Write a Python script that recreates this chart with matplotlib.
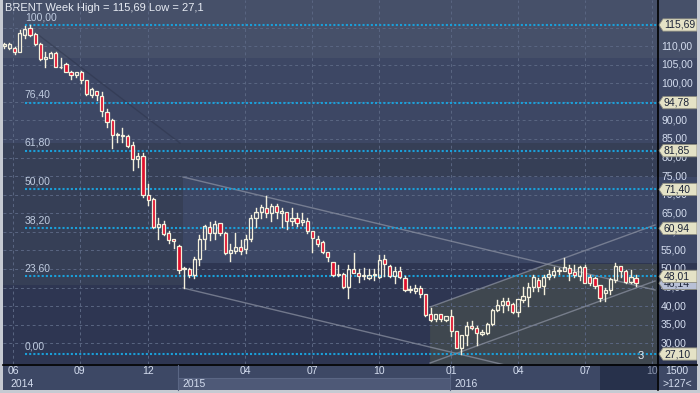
import matplotlib
matplotlib.use("Agg")
import matplotlib.pyplot as plt
from matplotlib.patches import Rectangle, Polygon
import matplotlib.transforms as mtransforms

plt.rcParams["font.family"] = ["Liberation Sans", "DejaVu Sans"]

# ---------------- data (weekly candles) ----------------
opens = [109.9, 109.5, 109.5, 108.5, 113.0, 114.9, 113.3, 110.6, 106.5, 106.9,
         108.2, 104.3, 105.1, 103.1, 102.2, 102.9, 100.9, 96.8, 97.9, 96.7,
         92.3, 90.1, 86.0, 85.7, 85.8, 83.3, 79.5, 80.4, 69.9, 68.8,
         61.2, 62.0, 59.6, 58.0, 56.2, 49.9, 50.0, 48.4, 52.7, 58.0,
         61.4, 59.8, 62.3, 59.8, 54.4, 54.8, 56.0, 55.3, 58.0, 63.6,
         65.3, 66.3, 65.2, 67.0, 65.2, 65.4, 63.0, 63.6, 62.7, 62.9,
         60.2, 58.2, 57.2, 54.5, 51.8, 48.4, 48.6, 45.2, 49.9, 49.0,
         48.0, 47.5, 48.4, 47.9, 52.7, 50.8, 48.1, 49.4, 47.5, 44.3,
         44.1, 44.8, 43.3, 37.8, 36.4, 37.8, 36.3, 37.2, 33.3, 28.6,
         32.2, 34.7, 34.0, 32.6, 32.7, 35.2, 39.0, 40.3, 41.4, 40.6,
         38.5, 41.6, 42.5, 45.2, 47.0, 45.4, 47.8, 48.4, 49.5, 49.5,
         50.2, 49.3, 48.1, 50.6, 47.9, 47.7, 45.7, 43.6, 44.3, 46.9,
         50.8, 49.5, 46.6, 47.7]
highs = [110.8, 110.8, 109.7, 114.3, 115.4, 115.69, 113.5, 110.8, 108.5, 108.3,
         108.4, 106.7, 105.5, 103.3, 103.1, 103.2, 101.0, 98.6, 98.0, 97.6,
         93.0, 90.3, 86.6, 87.9, 86.2, 84.2, 81.3, 81.1, 73.0, 69.1,
         63.6, 62.9, 60.3, 58.1, 56.4, 50.4, 50.3, 53.2, 59.1, 61.8,
         62.7, 63.0, 62.3, 60.0, 56.6, 59.6, 57.8, 59.2, 64.5, 66.3,
         67.2, 69.6, 67.5, 67.5, 66.3, 65.4, 66.3, 65.2, 65.0, 63.6,
         60.2, 58.9, 57.5, 54.7, 51.9, 51.1, 48.9, 51.1, 54.2, 49.9,
         50.2, 49.9, 49.9, 53.7, 53.7, 51.1, 50.4, 50.6, 48.2, 45.4,
         45.7, 45.4, 43.3, 39.4, 38.0, 38.0, 37.4, 38.9, 33.3, 32.3,
         35.8, 36.0, 34.7, 33.6, 35.5, 39.1, 41.6, 42.1, 42.1, 40.8,
         41.8, 45.2, 46.3, 48.4, 47.5, 48.4, 49.7, 50.4, 50.2, 52.9,
         51.1, 51.1, 50.8, 51.1, 48.4, 47.9, 45.7, 44.8, 47.5, 51.5,
         50.8, 49.7, 49.7, 48.4]
lows = [109.6, 109.3, 107.8, 108.4, 112.1, 112.8, 110.4, 106.2, 104.5, 106.7,
        104.3, 104.0, 102.9, 101.1, 101.8, 100.2, 96.9, 96.4, 95.5, 91.2,
        88.3, 82.5, 84.3, 84.3, 82.9, 76.6, 77.5, 69.5, 67.2, 61.0,
        58.2, 59.2, 57.1, 55.7, 48.8, 45.0, 47.8, 47.5, 51.1, 55.5,
        57.8, 58.0, 59.1, 54.0, 52.2, 54.2, 53.9, 54.2, 57.4, 61.2,
        63.6, 63.9, 63.0, 63.6, 61.2, 60.7, 61.8, 61.6, 61.8, 59.6,
        54.7, 56.2, 54.2, 52.2, 48.1, 48.1, 44.9, 42.1, 48.8, 46.6,
        47.2, 47.2, 47.0, 47.7, 48.1, 47.9, 46.3, 47.5, 44.1, 43.9,
        43.5, 42.4, 37.2, 36.1, 36.1, 36.0, 36.0, 32.0, 28.6, 27.1,
        29.5, 33.8, 29.5, 32.2, 32.5, 34.9, 38.8, 38.5, 39.0, 38.2,
        37.2, 41.2, 39.9, 44.2, 44.2, 43.3, 47.2, 47.9, 48.6, 49.5,
        46.9, 47.8, 47.0, 46.1, 45.7, 44.8, 41.5, 41.5, 43.3, 46.6,
        47.9, 46.3, 46.1, 45.4]
closes = [110.6, 110.5, 108.5, 113.5, 114.5, 113.0, 110.6, 106.5, 107.0, 108.1,
          104.5, 104.5, 103.1, 102.2, 102.9, 100.9, 97.1, 98.4, 96.8, 92.4,
          89.7, 86.1, 86.3, 86.0, 83.1, 79.5, 80.4, 69.9, 68.7, 61.4,
          62.0, 59.4, 57.8, 57.5, 49.7, 50.2, 48.4, 52.8, 58.2, 61.6,
          59.8, 62.1, 59.8, 54.4, 55.1, 56.0, 54.8, 58.0, 63.6, 65.4,
          66.8, 65.2, 67.0, 65.4, 65.7, 63.0, 63.6, 62.5, 63.2, 60.3,
          58.4, 56.7, 54.5, 53.3, 48.4, 48.6, 45.2, 49.9, 49.0, 48.1,
          48.4, 48.4, 48.5, 52.4, 51.3, 48.1, 49.4, 47.9, 44.4, 44.6,
          45.0, 43.3, 37.6, 36.3, 37.8, 36.4, 37.2, 33.3, 28.8, 32.2,
          34.7, 34.0, 32.7, 32.9, 35.2, 39.0, 40.3, 41.4, 40.3, 38.5,
          41.8, 42.7, 45.2, 47.8, 45.2, 47.8, 48.6, 49.5, 49.7, 50.4,
          49.0, 48.4, 50.6, 46.3, 46.3, 45.5, 42.1, 44.3, 47.2, 50.8,
          49.5, 46.6, 47.8, 46.1]

fib_pct = ["100,00", "76,40", "61,80", "50,00", "38,20", "23,60", "0,00"]
fib_price = [115.69, 94.78, 81.85, 71.40, 60.94, 48.01, 27.10]
fib_tags = ["115,69", "94,78", "81,85", "71,40", "60,94", "48,01", "27,10"]
last_price = 46.14
last_tag = "46,14"

price_ticks = [30, 35, 40, 45, 50, 55, 60, 65, 70, 75, 80, 85, 90, 95, 100, 105, 110]
month_labels = ["06", "09", "12", "04", "07", "10", "01", "04", "07", "10"]
month_pos = [1.7, 14.7, 28.0, 46.9, 59.9, 73.0, 87.0, 100.0, 113.1, 126.1]

# trend lines (week index, price)
desc_upper = ([34.8, 126.7], [74.76, 44.34])
desc_lower = ([34.8, 126.7], [44.88, 14.47])
asc_upper = ([82.9, 126.7], [39.76, 61.84])
asc_lower = ([82.9, 126.7], [24.68, 46.76])
old_line = ([6.2, 34.2], [113.5, 83.9])

# ---------------- colours ----------------
NAVY = "#2e3652"
BAND_A = "#465069"
BAND_B = "#3d4764"
BAND_C = "#363f56"
BAND_D = "#3c4765"
GREEN = "#3f474f"
CREAM = "#f4f0dc"
RED = "#e0102e"
FIB = "#1a9fd9"
GRID = "#5a6682"
TXT = "#d4ddef"

W, H = 700, 393
fig = plt.figure(figsize=(W / 100, H / 100), dpi=100, facecolor="#c6cad2")

# background in pixel coordinates
bg = fig.add_axes([0, 0, 1, 1])
bg.set_xlim(0, W)
bg.set_ylim(H, 0)
bg.axis("off")


def px_rect(x0, y0, x1, y1, c, z=0):
    bg.add_patch(Rectangle((x0, y0), x1 - x0, y1 - y0, facecolor=c, edgecolor="none", zorder=z))


px_rect(3, 0, 697, 364, NAVY)
px_rect(3, 0, 697, 58, BAND_A)
px_rect(3, 58, 697, 143, BAND_B)
px_rect(3, 143, 697, 263, BAND_C)
px_rect(3, 263, 183, 285, BAND_C)
px_rect(183, 177, 697, 263, BAND_D)
# date axis
px_rect(3, 364, 697, 390, "#3d4865")
px_rect(178, 378, 450, 390, "#4e5977")
px_rect(600, 364, 657, 390, "#27314b")
bg.plot([3, 697], [364.5, 364.5], color="black", lw=1.2, zorder=3)
bg.plot([657.5, 657.5], [0, 390], color="black", lw=1.2, zorder=3)
bg.plot([178, 178], [365, 390], color="#5a6684", lw=0.8, zorder=3)
bg.plot([450, 450], [365, 390], color="#5a6684", lw=0.8, zorder=3)
bg.plot([178, 450], [378, 378], color="#5a6684", lw=0.8, zorder=3)
bg.text(677, 371, "1500", color=TXT, fontsize=7.5, ha="center", va="center")
bg.text(677, 384, ">127<", color=TXT, fontsize=7.5, ha="center", va="center")
bg.text(10, 384, "2014", color=TXT, fontsize=7.5, va="center")
bg.text(182, 384, "2015", color=TXT, fontsize=7.5, va="center")
bg.text(454, 384, "2016", color=TXT, fontsize=7.5, va="center")
bg.text(5, 8, "BRENT Week High = 115,69 Low = 27,1", color="#e8ecf4", fontsize=8, va="center")

# main price axes
y_lo, y_hi = 24.41, 122.42
ax = fig.add_axes([3 / W, (H - 364) / H, 654 / W, 364 / H])
ax.set_facecolor("none")
ax.set_xlim(-0.25, 127.08)
ax.set_ylim(y_lo, y_hi)
ax.axis("off")

# green region of the rising channel
gx0, gx1 = asc_upper[0]
gy0, gy1 = asc_upper[1]
slope = (gy1 - gy0) / (gx1 - gx0)
top_p = 51.34
cross = gx0 + (top_p - gy0) / slope
ax.add_patch(Polygon([(gx0, gy0), (cross, top_p), (127.1, top_p), (127.1, y_lo), (gx0, y_lo)],
                     closed=True, facecolor=GREEN, edgecolor="none", zorder=0))

for p in price_ticks + [115]:
    ax.axhline(p, color=GRID, lw=0.7, ls=(0, (3, 3)), zorder=1)
for m in month_pos:
    ax.axvline(m, color=GRID, lw=0.7, ls=(0, (3, 3)), zorder=1)

for line in (desc_upper, desc_lower, asc_upper, asc_lower):
    ax.plot(line[0], line[1], color="#8e94a4", lw=1.0, alpha=0.7, zorder=2)
ax.plot(old_line[0], old_line[1], color="#262c40", lw=1.0, alpha=0.35, zorder=2)

for lab, p in zip(fib_pct, fib_price):
    ax.plot([4.0, 127.1], [p, p], color=FIB, lw=1.5, ls=(0, (1, 1)), zorder=3)
    ax.text(4.0, p + 0.8, lab, color="#c0cce0", fontsize=7.5, va="bottom", ha="left", zorder=3)

# candles
for i, (o, h, l, c) in enumerate(zip(opens, highs, lows, closes)):
    lo_b, hi_b = min(o, c), max(o, c)
    ax.plot([i, i], [l, lo_b], color=CREAM, lw=1.0, zorder=4)
    ax.plot([i, i], [hi_b, h], color=CREAM, lw=1.0, zorder=4)
    face = RED if c < o else "none"
    ax.bar(i, max(hi_b - lo_b, 0.15), bottom=lo_b, width=0.62, facecolor=face,
           edgecolor=CREAM, linewidth=0.9, zorder=5)

ax.text(124.0, 26.6, "3", color="#e8ecf4", fontsize=8, ha="center", va="center", zorder=6)

# month labels under the plot
trans = mtransforms.blended_transform_factory(ax.transData, fig.transFigure)
for m, lab in zip(month_pos, month_labels):
    col = "#8a94ac" if m > 125 else TXT
    fig.text(m, 1 - 371 / H, lab, transform=trans, color=col, fontsize=7.5,
             ha="center", va="center", clip_on=False)

# right price scale
rax = fig.add_axes([658 / W, (H - 364) / H, 39 / W, 364 / H])
rax.set_facecolor("none")
rax.set_xlim(0, 39)
rax.set_ylim(y_lo, y_hi)
rax.axis("off")
for p in price_ticks:
    rax.text(3, p, f"{p},00", color=TXT, fontsize=7.5, va="center", ha="left", zorder=1)

th = 1.65


def tag(p, text, face, z):
    rax.add_patch(Polygon([(1, p), (5, p + th), (39, p + th), (39, p - th), (5, p - th)],
                          closed=True, facecolor=face, edgecolor="#8c8c80", lw=0.6, zorder=z))
    rax.text(6, p, text, color="#1c2438", fontsize=7.5, va="center", ha="left", zorder=z + 0.5)


tag(last_price, last_tag, "#b8c0d6", 2)
for p, t in zip(fib_price, fib_tags):
    tag(p, t, "#e4e2c6", 3)

fig.savefig("out.png", dpi=100, facecolor=fig.get_facecolor())
